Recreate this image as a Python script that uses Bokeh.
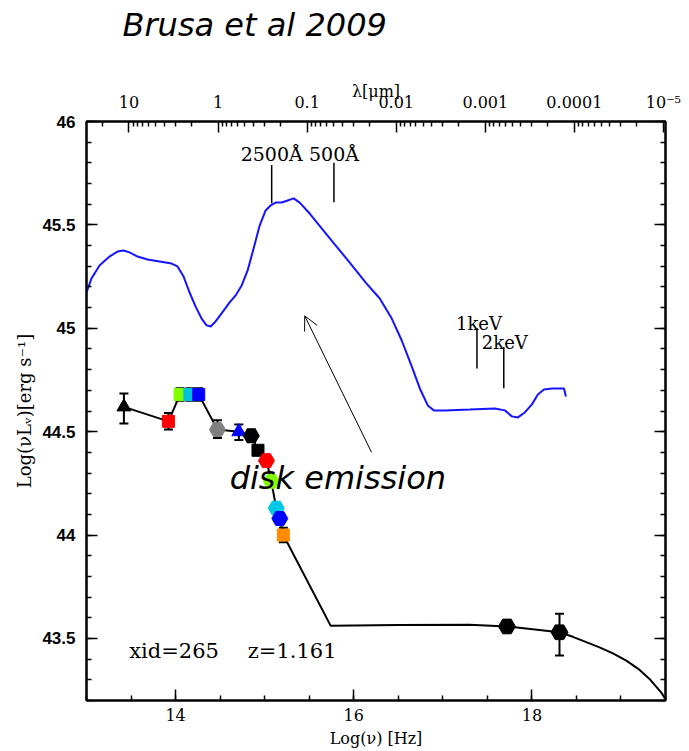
import numpy as np
from bokeh.plotting import figure
from bokeh.models import (Range1d, LinearAxis, FixedTicker, CustomJSTickFormatter,
                          Whisker, TeeHead, ColumnDataSource, Label, Arrow, OpenHead, Title)
from bokeh.core.properties import value
from bokeh.embed import file_html
from bokeh.resources import INLINE

# ---- photometry of XID 265 (rest-frame) ----
phot_lognu = [13.42, 13.92, 14.05, 14.16, 14.26, 14.47, 14.71, 14.85, 14.925, 15.02,
              15.075, 15.13, 15.17, 15.21, 17.72, 18.31]
phot_lum = [44.62, 44.55, 44.68, 44.68, 44.68, 44.51, 44.50, 44.48, 44.41, 44.36,
            44.26, 44.13, 44.08, 44.00, 43.558, 43.53]
phot_lo = [44.54, 44.51, 44.65, 44.65, 44.65, 44.47, 44.46, 44.45, 44.39, 44.34,
           44.24, 44.11, 44.06, 43.965, 43.55, 43.418]
phot_hi = [44.685, 44.59, 44.71, 44.71, 44.71, 44.555, 44.535, 44.51, 44.43, 44.38,
           44.28, 44.15, 44.10, 44.035, 43.565, 43.62]
phot_marker = ["triangle", "square", "square", "square", "square", "hex", "triangle", "hex",
               "square", "hex", "hex", "hex", "hex", "square", "hex", "hex"]
phot_color = ["black", "#ff0000", "#80ff00", "#00c0e0", "#0000ff", "#808080", "#0000ff", "black",
              "black", "#ff0000", "#80ff00", "#00c8e8", "#0000ff", "#ff8c00", "black", "black"]
phot_size = [14, 12, 12, 12, 12, 16, 14, 16, 12, 16, 16, 16, 16, 12, 17, 17]

# ---- best-fit SED of the source ----
model_lognu = [13.42, 13.92, 14.05, 14.16, 14.26, 14.47, 14.71, 14.85, 14.925, 15.02,
               15.075, 15.13, 15.17, 15.21, 15.74, 16.5, 17.3, 17.72, 18.31, 18.46,
               18.61, 18.76, 18.91, 19.06, 19.21, 19.33, 19.40, 19.46, 19.5]
model_lum = [44.62, 44.55, 44.68, 44.68, 44.68, 44.51, 44.50, 44.48, 44.41, 44.36,
             44.26, 44.13, 44.08, 44.00, 43.562, 43.565, 43.566, 43.558, 43.53, 43.508,
             43.482, 43.457, 43.428, 43.393, 43.348, 43.30, 43.265, 43.234, 43.205]

# ---- unobscured quasar template ----
qso_lognu = [13.0, 13.056, 13.146, 13.258, 13.348, 13.416, 13.483, 13.573, 13.685, 13.82,
             13.955, 14.022, 14.09, 14.157, 14.225, 14.292, 14.348, 14.393, 14.449, 14.517,
             14.607, 14.674, 14.742, 14.809, 14.876, 14.944, 15.011, 15.067, 15.124, 15.191,
             15.258, 15.326, 15.393, 15.506, 15.64, 15.798, 15.955, 16.135, 16.292, 16.427,
             16.539, 16.652, 16.742, 16.831, 16.899, 17.022, 17.303, 17.584, 17.697, 17.775,
             17.843, 17.921, 18.0, 18.067, 18.135, 18.225, 18.315, 18.36, 18.382]
qso_lum = [45.173, 45.241, 45.304, 45.347, 45.371, 45.376, 45.367, 45.347, 45.333, 45.323,
           45.313, 45.299, 45.25, 45.173, 45.105, 45.047, 45.014, 45.009, 45.033, 45.072,
           45.125, 45.159, 45.207, 45.28, 45.386, 45.497, 45.57, 45.594, 45.608, 45.608,
           45.618, 45.628, 45.608, 45.555, 45.483, 45.4, 45.318, 45.221, 45.144, 45.047,
           44.941, 44.815, 44.709, 44.627, 44.603, 44.603, 44.607, 44.612, 44.603, 44.574,
           44.569, 44.593, 44.632, 44.68, 44.704, 44.709, 44.709, 44.709, 44.67]

# ---- reference wavelengths / energies ----
LOG_C_UM = np.log10(2.998e14)          # c in micron / s
LOG_H_KEV = np.log10(2.418e17)         # 1 keV in Hz
ref_text = ["2500Å", "500Å", "1keV", "2keV"]
ref_lognu = [LOG_C_UM - np.log10(0.25), LOG_C_UM - np.log10(0.05),
             LOG_H_KEV, LOG_H_KEV + np.log10(2.0)]

SERIF = "DejaVu Serif"

p = figure(width=689, height=751, x_range=Range1d(13, 19.5), y_range=Range1d(43.2, 46),
           output_backend="svg", toolbar_location=None,
           min_border_left=86, min_border_right=24, min_border_top=121, min_border_bottom=51)
p.xgrid.visible = False
p.ygrid.visible = False
p.outline_line_color = "black"
p.outline_line_width = 2
p.background_fill_color = "white"
p.border_fill_color = "white"

p.title = Title(text="Brusa et al 2009", align="left", offset=36, standoff=6,
                text_font="DejaVu Sans", text_font_style="italic", text_font_size="32px",
                text_color="black")


def style_axis(ax):
    ax.axis_line_color = "black"
    ax.axis_line_width = 2
    ax.major_tick_in = 11
    ax.major_tick_out = 0
    ax.minor_tick_in = 5
    ax.minor_tick_out = 0
    ax.major_tick_line_width = 1.5
    ax.minor_tick_line_width = 1.5
    ax.major_tick_line_color = "black"
    ax.minor_tick_line_color = "black"
    ax.major_label_text_color = "black"
    ax.axis_label_text_color = "black"
    ax.axis_label_text_font_style = "normal"


nu_ticker = FixedTicker(ticks=[14, 16, 18], minor_ticks=list(np.arange(13.0, 19.51, 0.5)))
lum_ticker = FixedTicker(ticks=list(np.arange(43.5, 46.01, 0.5)),
                         minor_ticks=list(np.round(np.arange(43.2, 46.01, 0.1), 2)))

xa = p.xaxis[0]
style_axis(xa)
xa.ticker = nu_ticker
xa.major_label_text_font = SERIF
xa.major_label_text_font_size = "16px"
xa.major_label_standoff = 8
xa.axis_label = "Log(ν) [Hz]"
xa.axis_label_text_font = SERIF
xa.axis_label_text_font_size = "16px"
xa.axis_label_standoff = 5

ya = p.yaxis[0]
style_axis(ya)
ya.ticker = lum_ticker
ya.formatter = CustomJSTickFormatter(code="return String(Math.round(tick * 10) / 10);")
ya.major_label_text_font = "Liberation Sans"
ya.major_label_text_font_style = "bold"
ya.major_label_text_font_size = "17px"
ya.major_label_standoff = 11
ya.axis_label = "Log(νLᵥ)[erg s⁻¹]"
ya.axis_label_text_font = SERIF
ya.axis_label_text_font_size = "18px"
ya.axis_label_standoff = 4

# mirrored ticks on the right
ra = LinearAxis(ticker=lum_ticker, formatter=CustomJSTickFormatter(code="return '';"))
style_axis(ra)
ra.major_label_standoff = 0
p.add_layout(ra, "right")

# wavelength axis on top
lam_major = [LOG_C_UM - e for e in range(1, -6, -1)]
lam_minor = []
for e in range(2, -6, -1):
    for m in range(2, 10):
        t = LOG_C_UM - (e + np.log10(m))
        if 13.0 <= t <= 19.5:
            lam_minor.append(float(t))
ta = LinearAxis(ticker=FixedTicker(ticks=lam_major, minor_ticks=lam_minor),
                formatter=CustomJSTickFormatter(code="""
const e = Math.round(%f - tick);
if (e >= 0) return String(Math.pow(10, e));
if (e >= -4) return Math.pow(10, e).toFixed(-e);
const sup = {'-': '\u207b', '0': '\u2070', '1': '\u00b9', '2': '\u00b2', '3': '\u00b3',
             '4': '\u2074', '5': '\u2075', '6': '\u2076', '7': '\u2077', '8': '\u2078', '9': '\u2079'};
return '10' + String(e).split('').map(c => sup[c]).join('');
""" % LOG_C_UM))
style_axis(ta)
ta.major_label_text_font = SERIF
ta.major_label_text_font_size = "16px"
ta.major_label_standoff = 10
ta.axis_label = "λ[μm]"
ta.axis_label_text_font = SERIF
ta.axis_label_text_font_size = "16px"
ta.axis_label_standoff = -11
p.add_layout(ta, "above")

# spacing between the wavelength axis and the title
p.add_layout(Title(text=" ", text_font_size="16px", standoff=13), "above")

# curves
p.line(qso_lognu, qso_lum, line_color="#1414ff", line_width=2)
p.line(model_lognu, model_lum, line_color="black", line_width=2)

# photometry with error bars
src = ColumnDataSource(dict(x=phot_lognu, y=phot_lum, lo=phot_lo, hi=phot_hi,
                            marker=phot_marker, color=phot_color, size=phot_size))
p.add_layout(Whisker(source=src, base="x", lower="lo", upper="hi", dimension="height",
                     line_color="black", line_width=2,
                     lower_head=TeeHead(size=9, line_width=2, line_color="black"),
                     upper_head=TeeHead(size=9, line_width=2, line_color="black")))
p.scatter("x", "y", marker="marker", size="size", fill_color="color", line_color="color",
          source=src)

# reference markers: 2500Å, 500Å, 1keV, 2keV
tick_top = [45.79, 45.80, 45.0, 44.909]
tick_bot = [45.605, 45.61, 44.806, 44.71]
p.segment(x0=ref_lognu, y0=tick_bot, x1=ref_lognu, y1=tick_top, line_color="black",
          line_width=1.5)
p.text(x=ref_lognu, y=[45.845, 45.845, 45.025, 44.933], text=ref_text,
       x_offset=[0, 0, 2, 1], text_align="center", text_baseline="middle",
       text_font=value(SERIF), text_font_size=["19px", "19px", "18px", "18px"],
       text_color="black")

# annotation
p.add_layout(Arrow(end=OpenHead(size=14, line_width=1, line_color="black"),
                   x_start=16.2, y_start=44.40, x_end=15.45, y_end=45.06,
                   line_width=1, line_color="black"))
p.add_layout(Label(x=14.607, y=44.274, text="disk emission", text_font="DejaVu Sans",
                   text_font_style="italic", text_font_size="32px", text_baseline="middle",
                   text_color="black"))
p.add_layout(Label(x=13.48, y=43.437, text="xid=265", text_font=SERIF,
                   text_font_size="21px", text_baseline="middle", text_color="black"))
p.add_layout(Label(x=14.81, y=43.437, text="z=1.161", text_font=SERIF,
                   text_font_size="21px", text_baseline="middle", text_color="black"))

open("out.html", "w").write(file_html(p, INLINE))
